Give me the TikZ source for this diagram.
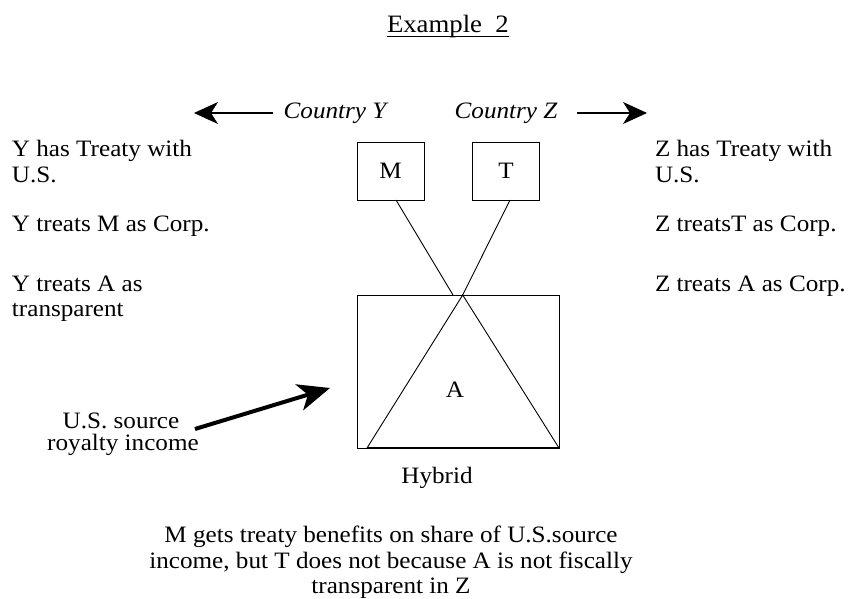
\documentclass[tikz,border=0pt]{standalone}
\usepackage{fontspec}
\setmainfont{Liberation Serif}[FakeStretch=1.07]
\usetikzlibrary{arrows.meta}
\begin{document}
\begin{tikzpicture}[x=1pt,y=-1pt,
  every node/.style={font=\fontsize{23.5}{26}\selectfont, inner sep=0pt, outer sep=0pt},
  txt/.style={anchor=base west},
  ctxt/.style={anchor=base},
  entity/.style={draw, line width=0.9pt, minimum width=67pt, minimum height=58pt},
  link/.style={line width=0.9pt},
  country/.style={line width=1.1pt, -{Stealth[length=24pt,width=22pt,inset=7pt]}},
  income/.style={line width=4pt, -{Stealth[length=32pt,width=27pt,inset=9pt]}}]
\useasboundingbox (0,0) rectangle (848,599);

% heading
\node[txt, font=\fontsize{25}{28}\selectfont] (title) at (387,33) {Example\ \ 2};
\draw[line width=0.9pt] ([yshift=-3pt]title.base west) -- ([yshift=-3pt]title.base east);

% countries
\node[ctxt, font=\fontsize{23.5}{26}\selectfont\itshape] (cy) at (335,119) {Country Y};
\node[ctxt, font=\fontsize{23.5}{26}\selectfont\itshape] (cz) at (506,119) {Country Z};
\coordinate (yl) at (194,113);
\coordinate (zr) at (647,113);
\draw[country] ([xshift=-11pt,yshift=6pt]cy.base west) -- (yl);
\draw[country] ([xshift=20pt,yshift=6pt]cz.base east) -- (zr);

% country Y facts
\node[txt] (y1) at (12,157) {Y has Treaty with};
\node[txt] (y2) at (12,182) {U.S.};
\node[txt] (y3) at (12,231) {Y treats M as Corp.};
\node[txt] (y4) at (12,291) {Y treats A as};
\node[txt] (y5) at (12,316) {transparent};

% country Z facts
\node[txt] (z1) at (655,157) {Z has Treaty with};
\node[txt] (z2) at (655,182) {U.S.};
\node[txt] (z3) at (655,231) {Z treatsT as Corp.};
\node[txt] (z4) at (655,291) {Z treats A as Corp.};

% entities
\node[entity] (M) at (390.5,171) {M};
\node[entity] (T) at (506,171) {T};
\node[draw, line width=0.9pt, minimum width=202pt, minimum height=153pt] (A) at (458,371.5) {};
\node (Alabel) at (455,390) {A};
\node[ctxt] (hyb) at (437,483) {Hybrid};

% ownership lines
\coordinate (apex) at ([xshift=4.7pt]A.north);
\coordinate (bl) at ([xshift=10pt]A.south west);
\draw[link] ([xshift=5.5pt]M.south) -- ([xshift=-5pt]A.north);
\draw[link] ([xshift=4pt]T.south) -- (apex);
\draw[link] (bl) -- (apex) -- (A.south east);
\draw[line width=1.6pt] (bl) -- (A.south east);

% income
\node[ctxt] (u1) at (121,428) {U.S. source};
\node[ctxt] (u2) at (123,450) {royalty income};
\coordinate (itip) at (330,388);
\draw[income] (195,429) -- (itip);

% conclusion
\node[ctxt] (c1) at (391,542) {M gets treaty benefits on share of U.S.source};
\node[ctxt] (c2) at (391,568) {income, but T does not because A is not fiscally};
\node[ctxt] (c3) at (391,593) {transparent in Z};
\end{tikzpicture}
\end{document}
